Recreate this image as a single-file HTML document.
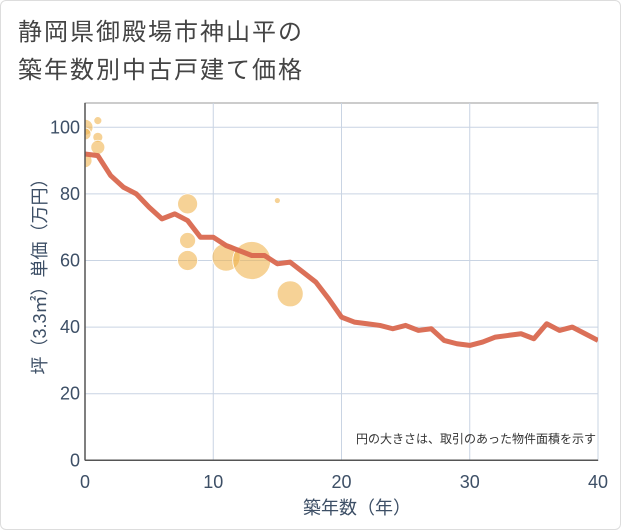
<!DOCTYPE html>
<html><head><meta charset="utf-8"><style>
body{margin:0;background:#fff;font-family:"Liberation Sans","Noto Sans CJK JP",sans-serif;}
#wrap{position:relative;width:619px;height:528px;border:1px solid #ddd;border-radius:6px;overflow:hidden;background:#fff}
</style></head><body>
<div id="wrap">
<svg id="c" width="621" height="530" style="position:absolute;left:-1px;top:-1px">
<defs><clipPath id="pc"><rect x="85" y="103" width="513" height="357.3"/></clipPath></defs>
<text x="18" y="40" font-size="24" letter-spacing="2" fill="#444" font-family="Liberation Sans, Noto Sans CJK JP, sans-serif">静岡県御殿場市神山平の</text>
<text x="18" y="78" font-size="24" letter-spacing="2" fill="#444" font-family="Liberation Sans, Noto Sans CJK JP, sans-serif">築年数別中古戸建て価格</text>
<g id="grid"></g><g id="bub" clip-path="url(#pc)"></g><g id="ln" clip-path="url(#pc)"></g><g id="ax"></g>
<text x="596" y="443" font-size="12" fill="#333" text-anchor="end" font-family="Liberation Sans, Noto Sans CJK JP, sans-serif">円の大きさは、取引のあった物件面積を示す</text>
<text x="357" y="514" font-size="18" fill="#3d4f66" text-anchor="middle" font-family="Liberation Sans, Noto Sans CJK JP, sans-serif">築年数（年）</text>
<text transform="translate(46,272) rotate(-90)" font-size="18" fill="#3d4f66" text-anchor="middle" font-family="Liberation Sans, Noto Sans CJK JP, sans-serif">坪（3.3㎡）単価（万円）</text>
</svg>
</div>
<script>
const xTicks=[0,10,20,30,40];
const yTicks=[0,20,40,60,80,100];
const lineYears=[0,1,2,3,4,5,6,7,8,9,10,11,12,13,14,15,16,17,18,19,20,21,22,23,24,25,26,27,28,29,30,31,32,33,34,35,36,37,38,39,40];
const linePrices=[92,91.5,85.5,82,80,76,72.5,74,72,67,67,64.5,63,61.5,61.5,59,59.5,56.5,53.5,48.5,43,41.5,41,40.5,39.5,40.5,39,39.5,36,35,34.5,35.5,37,37.5,38,36.5,41,39,40,38,36];
const bubbleYears=[0,0,1,1,1,0,8,8,8,11,13,15,16];
const bubblePrices=[100,98,102,97,94,90,77,66,60,61,60,78,50];
const bubbleRadii=[8,6,4,5,7,7,10,8,10,14,19,3,13];
const NS="http://www.w3.org/2000/svg";
const X0=85,X1=598,Y0=460.3,Y1=103;
const sx=v=>X0+(v/40)*(X1-X0);
const sy=v=>Y0-(v/100)*(Y0-127.3);
function mk(t,a,p){const e=document.createElementNS(NS,t);for(const k in a)e.setAttribute(k,a[k]);p.appendChild(e);return e;}
const grid=document.getElementById('grid'),ax=document.getElementById('ax'),bub=document.getElementById('bub'),ln=document.getElementById('ln');
const bg=mk('rect',{x:X0,y:Y1,width:X1-X0,height:Y0-Y1,fill:'#fff',stroke:'#999','stroke-width':1},grid);


xTicks.forEach(v=>{
 const l=mk('line',{x1:sx(v),x2:sx(v),y1:Y1,y2:Y0,stroke:'#c9d4e3','stroke-width':1},grid);
 
 
 const t=mk('text',{x:sx(v),y:488,'font-size':18,fill:'#3d4f66','text-anchor':'middle'},ax);
 t.textContent=v;
 
 
});
yTicks.forEach(v=>{
 const l=mk('line',{x1:X0,x2:X1,y1:sy(v),y2:sy(v),stroke:'#c9d4e3','stroke-width':1},grid);
 
 
 const t=mk('text',{x:80,y:sy(v)+6,'font-size':18,fill:'#3d4f66','text-anchor':'end'},ax);
 t.textContent=v;
 
 
});
mk('line',{x1:X0,x2:X0,y1:Y1,y2:Y0,stroke:'#555','stroke-width':1.5},ax);
mk('line',{x1:X0,x2:X1,y1:Y0,y2:Y0,stroke:'#555','stroke-width':1.5},ax);
bubbleYears.forEach((v,i)=>{
 const c=mk('circle',{cx:sx(v),cy:sy(bubblePrices[i]),r:bubbleRadii[i],fill:'rgba(240,180,80,0.6)',stroke:'#fff','stroke-width':0.8},bub);
 
 
});
const p=mk('polyline',{points:lineYears.map((v,i)=>sx(v)+','+sy(linePrices[i])).join(' '),fill:'none',stroke:'#d9684f','stroke-width':5,'stroke-linejoin':'round','stroke-opacity':0.95},ln);


</script>
</body></html>
